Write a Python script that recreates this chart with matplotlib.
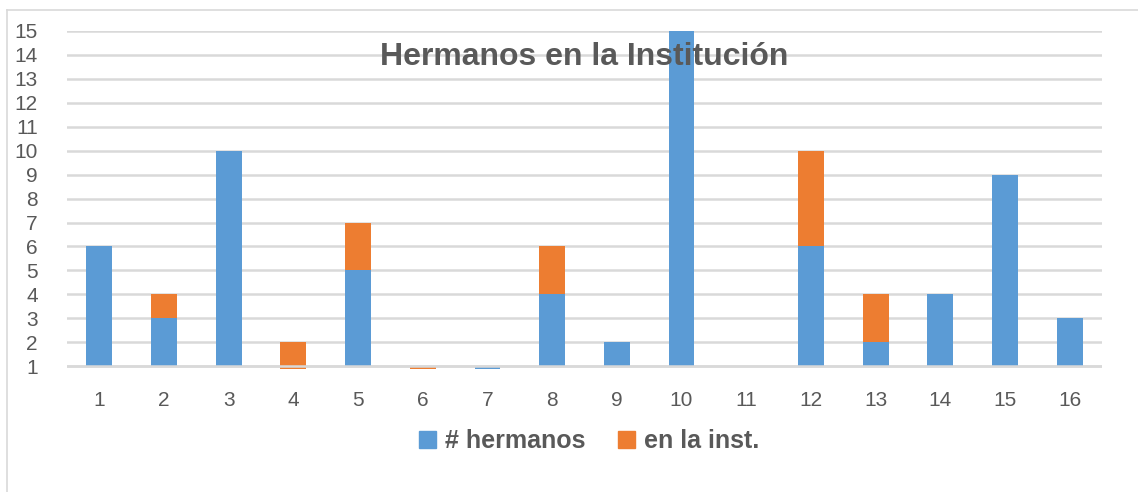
import matplotlib.pyplot as plt
from matplotlib.lines import Line2D
from matplotlib.patches import Patch

categories = list(range(1, 17))
hermanos = [6, 3, 10, 0, 5, 0, 0, 4, 2, 15, 1, 6, 2, 4, 9, 3]
en_inst = [0, 1, 0, 2, 2, 1, 0, 2, 0, 0, 0, 4, 2, 0, 0, 0]
y_ticks = list(range(1, 16))

blue = "#5B9BD5"
orange = "#ED7D31"
grid_col = "#D9D9D9"
text_col = "#595959"
base = 1  # Excel draws the columns from where the axis crosses

plt.rcParams["font.family"] = ["Liberation Sans", "DejaVu Sans"]

fig = plt.figure(figsize=(11.38, 4.92), dpi=100)
ax = fig.add_axes([67 / 1138, 1 - 369 / 492, 1035 / 1138, (369 - 31) / 492])

ax.bar(categories, [h - base for h in hermanos], bottom=base, width=0.4,
       color=blue, zorder=2)
ax.bar(categories, en_inst, bottom=hermanos, width=0.4, color=orange, zorder=2)

ax.set_xlim(0.5, 16.5)
ax.set_ylim(0.88, 15)
ax.set_yticks(y_ticks)
ax.set_xticks(categories)
ax.yaxis.grid(True, color=grid_col, linewidth=1.8, zorder=1)
ax.set_axisbelow(True)
ax.axhline(base, color=grid_col, linewidth=1.8, zorder=3)
for s in ax.spines.values():
    s.set_visible(False)
ax.tick_params(length=0, labelsize=15, labelcolor=text_col)
ax.tick_params(axis="y", pad=21)
ax.tick_params(axis="x", pad=16)

ax.text(0.5, 0.923, "Hermanos en la Institución", transform=ax.transAxes,
        ha="center", va="center", fontsize=23, fontweight="bold",
        color=text_col, zorder=5)

handles = [Patch(color=blue, label="# hermanos"),
           Patch(color=orange, label="en la inst.")]
fig.legend(handles=handles, loc="center", bbox_to_anchor=(589 / 1138, 1 - 441 / 492),
           ncol=2, frameon=False, handlelength=0.7, handleheight=0.7,
           handletextpad=0.35, columnspacing=1.3,
           prop={"size": 18, "weight": "bold"}, labelcolor=text_col)

# chart area border
fig.add_artist(Line2D([7 / 1138, 7 / 1138], [1 - 10 / 492, 0], color=grid_col,
                      linewidth=1.2, transform=fig.transFigure))
fig.add_artist(Line2D([7 / 1138, 1], [1 - 10 / 492, 1 - 10 / 492], color=grid_col,
                      linewidth=1.2, transform=fig.transFigure))

fig.savefig("out.png", dpi=100)
